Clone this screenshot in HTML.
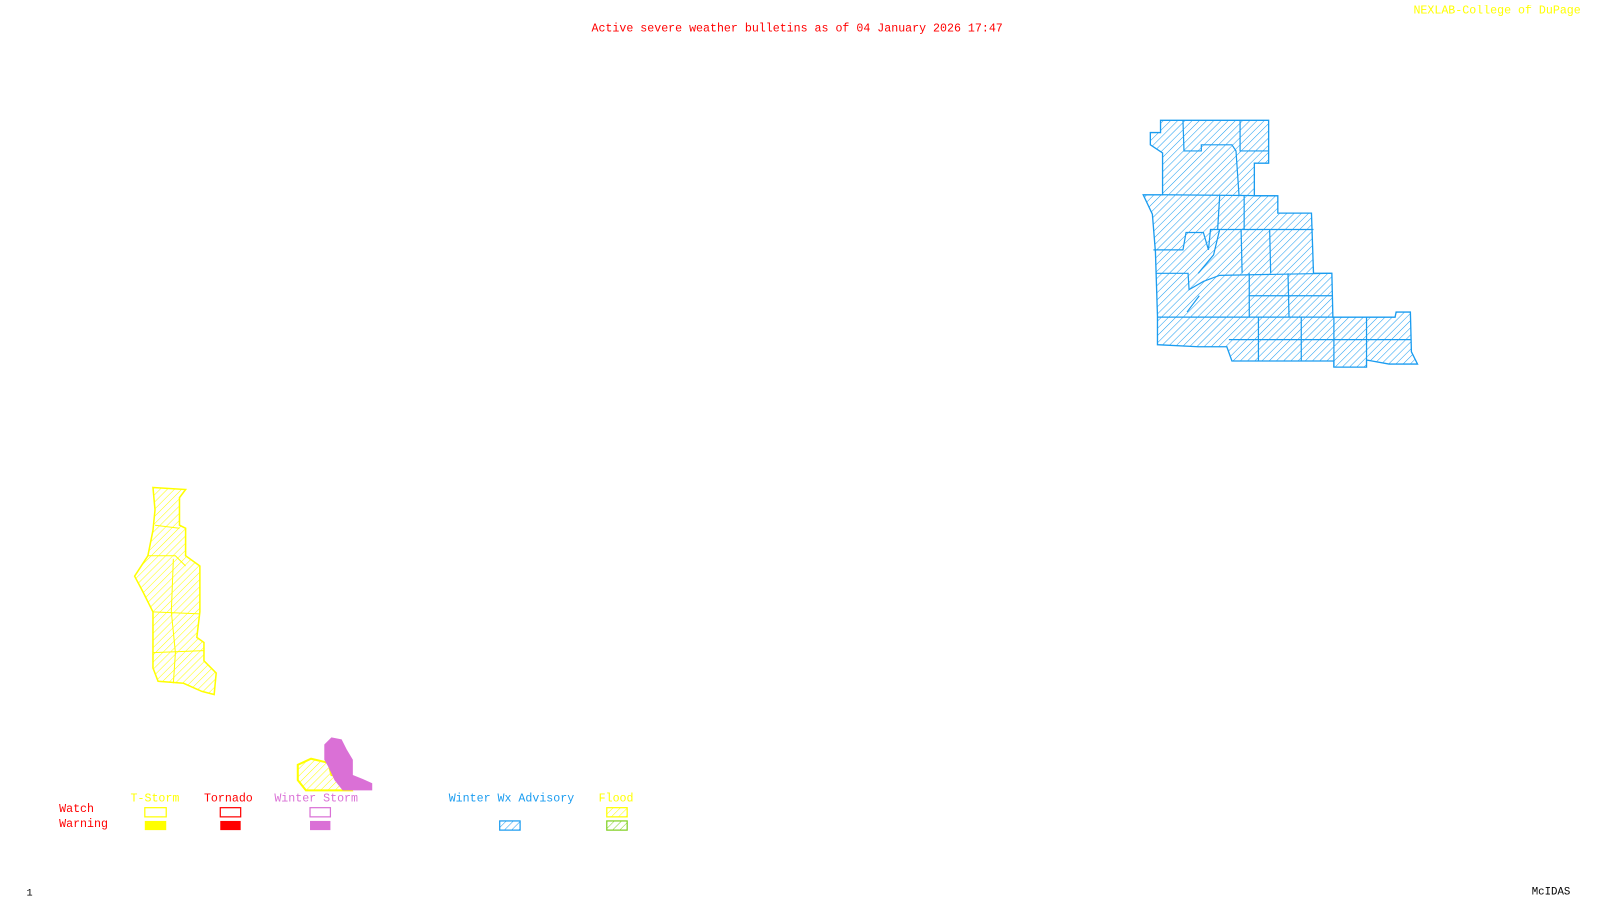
<!DOCTYPE html>
<html><head><meta charset="utf-8"><style>
html,body{margin:0;padding:0;background:#fff;}
body{width:1600px;height:900px;overflow:hidden;position:relative;font-family:"Liberation Mono",monospace;}
#w{position:absolute;left:0;top:0;width:1569px;height:883px;transform:scale(1.0198);transform-origin:0 0;}
.t{position:absolute;font-size:11.4px;white-space:pre;line-height:12px;}
</style></head><body><div id="w">
<svg width="1569" height="883" style="position:absolute;left:0;top:0">
<defs>
<pattern id="hb" width="5" height="5" patternUnits="userSpaceOnUse" patternTransform="rotate(45)"><line x1="0" y1="0" x2="0" y2="5" stroke="#1a9cf0" stroke-width="1"/></pattern>
<pattern id="hy" width="5" height="5" patternUnits="userSpaceOnUse" patternTransform="rotate(45)"><line x1="0" y1="0" x2="0" y2="5" stroke="#ffff00" stroke-width="1"/></pattern>
<pattern id="hg" width="5" height="5" patternUnits="userSpaceOnUse" patternTransform="rotate(45)"><line x1="0" y1="0" x2="0" y2="5" stroke="#80d020" stroke-width="1"/></pattern>
</defs>
<polygon fill="url(#hb)" stroke="#1a9cf0" stroke-width="1.3" points="1138,118 1244,118 1244,160 1230,160 1230,192 1253,192 1253,209 1286,209 1288,268 1306,268 1307,311 1368,311 1369,306 1383,306 1384,345 1390,357 1362,357 1340,353 1340,360 1308,360 1308,354 1276,354 1235,354 1208,354 1203,340 1175,340 1135,338 1135,310 1133,247 1130,210 1121,191 1140,191 1140,150 1128,142 1128,130 1138,130"/>
<g stroke="#1a9cf0" stroke-width="1.2" fill="none">
<path d="M1160,118 L1161,148 L1178,148 L1178,142 L1208,142 L1212,148 L1215,192"/>
<path d="M1216,118 L1216,148 L1244,148"/>
<path d="M1140,191 L1253,192"/>
<path d="M1196,192 L1194,225 M1220,192 L1220,225"/>
<path d="M1131,245 L1160,245 L1163,228 L1180,228 L1185,245 L1187,225 L1288,225"/>
<path d="M1217,225 L1218,268 M1245,225 L1246,268"/>
<path d="M1133,268 L1165,268 L1166,284 L1180,276 L1196,270 L1306,268"/>
<path d="M1225,268 L1225,311 M1263,268 L1264,311 M1225,290 L1307,290"/>
<path d="M1135,311 L1307,311"/>
<path d="M1234,311 L1234,354 M1276,311 L1276,354 M1205,333 L1384,333 M1308,311 L1308,360 M1340,311 L1340,353"/>
<path d="M1196,225 L1190,250 L1175,268 M1176,290 L1164,306"/>
</g>
<polygon fill="url(#hy)" stroke="#ffff00" stroke-width="1.5" points="150,478 182,480 176,488 176,515 182,518 182,545 196,555 196,600 193,625 200,630 200,648 212,660 210,681 198,678 180,670 155,668 150,655 150,600 140,580 132,565 145,545 150,520 152,500"/>
<g stroke="#ffff00" stroke-width="1" fill="none">
<path d="M152,515 L176,518"/><path d="M145,545 L172,545 L182,555"/><path d="M150,600 L196,602"/><path d="M170,548 L168,600 L172,640 L170,670"/><path d="M150,640 L200,638"/>
</g>
<polygon fill="url(#hy)" stroke="#ffff00" stroke-width="2" points="292,750 305,744 322,748 325,760 340,762 345,775 300,775 292,765"/>
<polygon fill="#da70d6" points="318,730 325,723 335,725 340,735 346,745 346,760 356,764 365,768 365,775 336,775 328,765 322,752 318,745"/>
<rect x="142" y="792" width="21" height="9" fill="none" stroke="#ffff00" stroke-width="1.2"/>
<rect x="142" y="805" width="21" height="9" fill="#ffff00"/>
<rect x="216" y="792" width="20" height="9" fill="none" stroke="#ff0000" stroke-width="1.2"/>
<rect x="216" y="805" width="20" height="9" fill="#ff0000"/>
<rect x="304" y="792" width="20" height="9" fill="none" stroke="#da70d6" stroke-width="1.2"/>
<rect x="304" y="805" width="20" height="9" fill="#da70d6"/>
<rect x="490" y="805" width="20" height="9" fill="url(#hb)" stroke="#1a9cf0" stroke-width="1.2"/>
<rect x="595" y="792" width="20" height="9" fill="url(#hy)" stroke="#ffff00" stroke-width="1.2"/>
<rect x="595" y="805" width="20" height="9" fill="url(#hg)" stroke="#80d020" stroke-width="1.2"/>
</svg>
<div class="t" style="left:580px;top:23px;color:#ff0000">Active severe weather bulletins as of 04 January 2026 17:47</div>
<div class="t" style="left:1386px;top:5px;color:#ffff00">NEXLAB-College of DuPage</div>
<div class="t" style="left:128px;top:778px;color:#ffff00">T-Storm</div>
<div class="t" style="left:200px;top:778px;color:#ff0000">Tornado</div>
<div class="t" style="left:269px;top:778px;color:#da70d6">Winter Storm</div>
<div class="t" style="left:440px;top:778px;color:#1a9cf0">Winter Wx Advisory</div>
<div class="t" style="left:587px;top:778px;color:#ffff00">Flood</div>
<div class="t" style="left:58px;top:788px;color:#ff0000">Watch</div>
<div class="t" style="left:58px;top:803px;color:#ff0000">Warning</div>
<div class="t" style="left:26px;top:871px;color:#000;font-size:10px">1</div>
<div class="t" style="left:1502px;top:869px;color:#000;font-size:10.5px">McIDAS</div>
</div></body></html>
